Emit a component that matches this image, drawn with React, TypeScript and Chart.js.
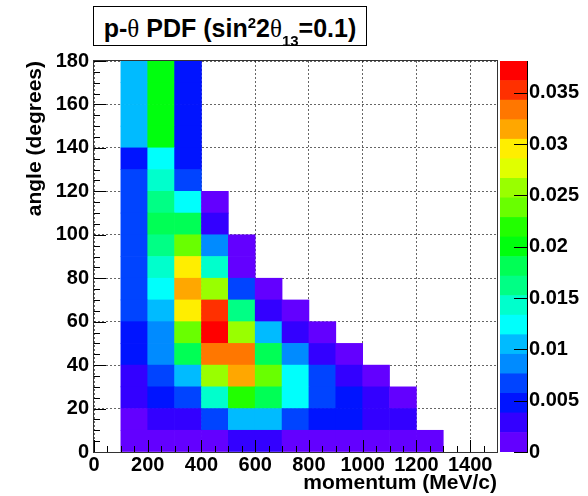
import React, { useEffect, useRef } from 'react';
import { Chart, registerables } from 'chart.js';

Chart.register(...registerables);

// ---- Bins and ticks ----
const momentumBinLow = [0, 100, 200, 300, 400, 500, 600, 700, 800, 900, 1000, 1100, 1200, 1300, 1400];
const momentumBinWidth = 100;
const angleBinLow = [0, 10, 20, 30, 40, 50, 60, 70, 80, 90, 100, 110, 120, 130, 140, 150, 160, 170];
const angleBinWidth = 10;
const xTickValues = [0, 200, 400, 600, 800, 1000, 1200, 1400];
const yTickValues = [0, 20, 40, 60, 80, 100, 120, 140, 160, 180];
const zTickValues = [0, 0.005, 0.01, 0.015, 0.02, 0.025, 0.03, 0.035];
const xMinorStep = 50;
const yMinorStep = 5;

// ---- PDF values, one row per angle bin, one entry per momentum bin ----
const pdfAngle000to010 = [0, 0.0009, 0.0009, 0.0009, 0.0009, 0.0028, 0.0028, 0.0009, 0.0009, 0.0009, 0.0009, 0.0009, 0.0009, 0, 0];
const pdfAngle010to020 = [0, 0.0009, 0.0028, 0.0028, 0.0067, 0.0105, 0.0105, 0.0067, 0.0048, 0.0048, 0.0028, 0.0028, 0, 0, 0];
const pdfAngle020to030 = [0, 0.0028, 0.0048, 0.0067, 0.0143, 0.0219, 0.0181, 0.0124, 0.0067, 0.0048, 0.0028, 0.0009, 0, 0, 0];
const pdfAngle030to040 = [0, 0.0028, 0.0067, 0.0105, 0.0257, 0.0314, 0.0238, 0.0124, 0.0067, 0.0028, 0.0009, 0, 0, 0, 0];
const pdfAngle040to050 = [0, 0.0048, 0.0086, 0.0181, 0.0333, 0.0333, 0.0181, 0.0086, 0.0028, 0.0009, 0, 0, 0, 0, 0];
const pdfAngle050to060 = [0, 0.0048, 0.0086, 0.0238, 0.0381, 0.0257, 0.0105, 0.0028, 0.0009, 0, 0, 0, 0, 0, 0];
const pdfAngle060to070 = [0, 0.0067, 0.0105, 0.0295, 0.0352, 0.0162, 0.0028, 0.0009, 0, 0, 0, 0, 0, 0, 0];
const pdfAngle070to080 = [0, 0.0067, 0.0124, 0.0314, 0.0257, 0.0067, 0.0009, 0, 0, 0, 0, 0, 0, 0, 0];
const pdfAngle080to090 = [0, 0.0067, 0.0143, 0.0295, 0.0143, 0.0009, 0, 0, 0, 0, 0, 0, 0, 0, 0];
const pdfAngle090to100 = [0, 0.0067, 0.0162, 0.0238, 0.0086, 0.0009, 0, 0, 0, 0, 0, 0, 0, 0, 0];
const pdfAngle100to110 = [0, 0.0067, 0.0181, 0.0181, 0.0028, 0, 0, 0, 0, 0, 0, 0, 0, 0, 0];
const pdfAngle110to120 = [0, 0.0067, 0.0162, 0.0124, 0.0009, 0, 0, 0, 0, 0, 0, 0, 0, 0, 0];
const pdfAngle120to130 = [0, 0.0067, 0.0143, 0.0067, 0, 0, 0, 0, 0, 0, 0, 0, 0, 0, 0];
const pdfAngle130to140 = [0, 0.0048, 0.0124, 0.0048, 0, 0, 0, 0, 0, 0, 0, 0, 0, 0, 0];
const pdfAngle140to150 = [0, 0.0105, 0.0200, 0.0048, 0, 0, 0, 0, 0, 0, 0, 0, 0, 0, 0];
const pdfAngle150to160 = [0, 0.0105, 0.0200, 0.0048, 0, 0, 0, 0, 0, 0, 0, 0, 0, 0, 0];
const pdfAngle160to170 = [0, 0.0105, 0.0200, 0.0048, 0, 0, 0, 0, 0, 0, 0, 0, 0, 0, 0];
const pdfAngle170to180 = [0, 0.0105, 0.0200, 0.0048, 0, 0, 0, 0, 0, 0, 0, 0, 0, 0, 0];

const pdfRows = [
  pdfAngle000to010, pdfAngle010to020, pdfAngle020to030, pdfAngle030to040, pdfAngle040to050,
  pdfAngle050to060, pdfAngle060to070, pdfAngle070to080, pdfAngle080to090, pdfAngle090to100,
  pdfAngle100to110, pdfAngle110to120, pdfAngle120to130, pdfAngle130to140, pdfAngle140to150,
  pdfAngle150to160, pdfAngle160to170, pdfAngle170to180,
];

const FONT = "'Liberation Sans', Arial, Helvetica, sans-serif";
const N_CONTOURS = 20;
const N_PALETTE = 50;
const zMax = Math.max(...pdfRows.flat());

function paletteColor(k: number): string {
  const idx = Math.floor(((k + 0.99) * N_PALETTE) / N_CONTOURS);
  const hue = 280 - (idx + 1) * (280 / N_PALETTE);
  return `hsl(${hue}, 100%, 50%)`;
}
function levelOf(z: number): number {
  return Math.max(0, Math.min(N_CONTOURS - 1, Math.floor((z / zMax) * N_CONTOURS)));
}

const tickFont = { family: FONT, size: 20, weight: 'bold' as const };
const titleFont = { family: FONT, size: 21, weight: 'bold' as const };

const mainDecor = {
  id: 'mainDecor',
  afterDraw(chart: any) {
    const { ctx, chartArea: a, scales } = chart;
    const xs = scales.x;
    const ys = scales.y;
    ctx.save();
    ctx.lineWidth = 1;
    ctx.strokeStyle = '#000';
    ctx.beginPath();
    for (let v = xs.min; v <= xs.max; v += xMinorStep) {
      const px = Math.round(xs.getPixelForValue(v)) + 0.5;
      const len = v % 200 === 0 ? 12 : 6;
      ctx.moveTo(px, a.bottom);
      ctx.lineTo(px, a.bottom - len);
    }
    for (let v = ys.min; v <= ys.max; v += yMinorStep) {
      const py = Math.round(ys.getPixelForValue(v)) + 0.5;
      const len = v % 20 === 0 ? 12 : 6;
      ctx.moveTo(a.left, py);
      ctx.lineTo(a.left + len, py);
    }
    ctx.stroke();
    ctx.strokeStyle = '#333';
    ctx.strokeRect(Math.round(a.left) - 0.5, Math.round(a.top) - 0.5, Math.round(a.right - a.left) + 1, Math.round(a.bottom - a.top) + 1);
    ctx.restore();
  },
};

const barDecor = {
  id: 'barDecor',
  afterDraw(chart: any) {
    const { ctx, chartArea: a, scales } = chart;
    const zs = scales.y;
    ctx.save();
    ctx.lineWidth = 1;
    ctx.strokeStyle = '#000';
    ctx.beginPath();
    for (const v of zTickValues) {
      const py = Math.round(zs.getPixelForValue(v)) + 0.5;
      ctx.moveTo(a.right - 13, py);
      ctx.lineTo(a.right, py);
    }
    ctx.stroke();
    ctx.restore();
  },
};

export default function App() {
  const mainRef = useRef<HTMLCanvasElement>(null);
  const barRef = useRef<HTMLCanvasElement>(null);

  useEffect(() => {
    if (!mainRef.current || !barRef.current) return;

    const datasets = angleBinLow.map((lo, r) => ({
      label: `${lo}-${lo + angleBinWidth}`,
      data: momentumBinLow
        .map((p, c) => ({ x: p + momentumBinWidth / 2, y: [lo, lo + angleBinWidth], z: pdfRows[r][c] }))
        .filter((d) => d.z > 0),
      backgroundColor: (ctx: any) => paletteColor(levelOf(ctx.raw ? ctx.raw.z : 0)),
      borderWidth: 0,
      grouped: false,
      barPercentage: 1,
      categoryPercentage: 1,
    }));

    const main = new Chart(mainRef.current, {
      type: 'bar',
      data: { datasets: datasets as any },
      plugins: [mainDecor],
      options: {
        responsive: false,
        animation: false,
        events: [],
        layout: { padding: { top: 61, right: 91, bottom: 0, left: 0 } },
        plugins: { legend: { display: false }, tooltip: { enabled: false } },
        scales: {
          x: {
            type: 'linear',
            min: 0,
            max: 1500,
            offset: false,
            z: 1,
            afterFit: (s: any) => { s.height = 44; },
            afterBuildTicks: (s: any) => { s.ticks = xTickValues.map((v) => ({ value: v })); },
            ticks: { font: tickFont, color: '#000', padding: 1, maxRotation: 0, autoSkip: false, callback: (v: any) => String(v) },
            grid: { offset: false, color: 'rgba(0,0,0,0.6)', lineWidth: 1, drawTicks: false },
            border: { display: false, dash: [2, 2] },
            title: { display: true, text: 'momentum (MeV/c)', align: 'end', font: titleFont, color: '#000', padding: { top: 0, bottom: 0 } },
          },
          y: {
            type: 'linear',
            min: 0,
            max: 180,
            z: 1,
            afterFit: (s: any) => { s.width = 94; },
            afterBuildTicks: (s: any) => { s.ticks = yTickValues.map((v) => ({ value: v })); },
            ticks: { font: tickFont, color: '#000', padding: 5, autoSkip: false, callback: (v: any) => String(v) },
            grid: { color: 'rgba(0,0,0,0.6)', lineWidth: 1, drawTicks: false },
            border: { display: false, dash: [2, 2] },
            title: { display: true, text: 'angle (degrees)', align: 'end', font: titleFont, color: '#000', padding: { top: 23, bottom: 0 } },
          },
        },
      } as any,
    });

    const levels = Array.from({ length: N_CONTOURS }, (_, k) => k);
    const bar = new Chart(barRef.current, {
      type: 'bar',
      data: {
        labels: ['z'],
        datasets: levels.map((k) => ({
          label: `level ${k}`,
          data: [[(k * zMax) / N_CONTOURS, ((k + 1) * zMax) / N_CONTOURS]],
          backgroundColor: paletteColor(k),
          borderWidth: 0,
          grouped: false,
          barPercentage: 1,
          categoryPercentage: 1,
        })) as any,
      },
      plugins: [barDecor],
      options: {
        responsive: false,
        animation: false,
        events: [],
        layout: { padding: { top: 61, right: 0, bottom: 44, left: 10 } },
        plugins: { legend: { display: false }, tooltip: { enabled: false } },
        scales: {
          x: { display: false },
          y: {
            type: 'linear',
            position: 'right',
            min: 0,
            max: zMax,
            afterFit: (s: any) => { s.width = 61; },
            afterBuildTicks: (s: any) => { s.ticks = zTickValues.map((v) => ({ value: v })); },
            ticks: { font: tickFont, color: '#000', padding: 2, autoSkip: false, callback: (v: any) => String(+Number(v).toFixed(3)) },
            grid: { display: false, drawTicks: false },
            border: { display: true, color: '#000', width: 1 },
          },
        },
      } as any,
    });

    return () => {
      main.destroy();
      bar.destroy();
    };
  }, []);

  const thetaStyle: React.CSSProperties = { fontFamily: "'Liberation Serif', 'DejaVu Serif', serif", fontWeight: 'normal' };
  const supStyle: React.CSSProperties = { fontSize: 15, position: 'relative', top: -9, verticalAlign: 'baseline' };
  const subStyle: React.CSSProperties = { fontSize: 15, position: 'relative', top: 9, verticalAlign: 'baseline' };

  return (
    <div style={{ position: 'absolute', left: 0, top: 0, width: 588, height: 496, background: '#fff', overflow: 'hidden' }}>
      <canvas ref={mainRef} width={588} height={496} style={{ position: 'absolute', left: 0, top: 0 }} />
      <canvas ref={barRef} width={98} height={496} style={{ position: 'absolute', left: 490, top: 0 }} />
      <div
        style={{
          position: 'absolute', left: 93, top: 6, width: 274, height: 40, boxSizing: 'border-box',
          border: '1px solid #000', background: '#fff', display: 'flex', alignItems: 'center',
          justifyContent: 'center', paddingTop: 5, whiteSpace: 'nowrap',
          fontFamily: FONT, fontWeight: 'bold', fontSize: 25, color: '#000', lineHeight: 'normal',
        }}
      >
        <span>
          p-<span style={thetaStyle}>θ</span> PDF (sin<span style={supStyle}>2</span>2<span style={thetaStyle}>θ</span><span style={subStyle}>13</span>=0.1)
        </span>
      </div>
    </div>
  );
}
